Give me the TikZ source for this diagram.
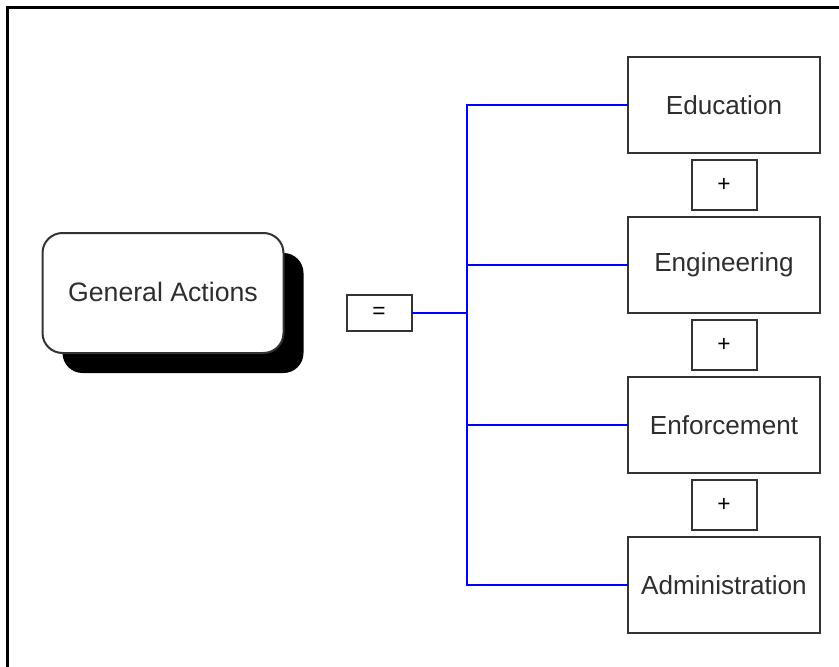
\documentclass[tikz,border=0pt]{standalone}
\usepackage{fontspec}
\setmainfont{Liberation Sans}
\usetikzlibrary{positioning,shadows}

\definecolor{boxline}{HTML}{333333}
\definecolor{boxtext}{HTML}{2E2E2E}
\definecolor{linkblue}{HTML}{0000FF}

\tikzset{
  part/.style={draw=boxline, line width=1.5pt, fill=white, text=boxtext,
    minimum width=144pt, minimum height=72pt, inner sep=0pt, outer sep=0pt,
    font=\fontsize{19.6}{23}\selectfont},
  sign/.style={draw=boxline, line width=1.5pt, fill=white, text=black,
    minimum width=48.75pt, minimum height=37.5pt, inner sep=0pt, outer sep=0pt,
    font=\fontsize{17}{19}\selectfont},
  whole/.style={draw=boxline, line width=1.5pt, fill=white, text=boxtext,
    rounded corners=15pt, minimum width=180.75pt, minimum height=90pt,
    inner sep=0pt, outer sep=0pt, font=\fontsize{20}{23}\selectfont,
    drop shadow={shadow xshift=15pt, shadow yshift=-15pt, fill=black, opacity=1}},
  link/.style={draw=linkblue, line width=1.5pt}
}

\begin{document}
\begin{tikzpicture}[x=0.75pt, y=-0.75pt]
  \useasboundingbox (0,0) rectangle (839,667);
  \draw[line width=2.25pt] (839,7.5) -- (7.5,7.5) -- (7.5,667);

  \node (gen) [whole] at (163,293) {\raisebox{2pt}{General Actions}};
  \node (eq) [sign, minimum height=27pt] at (379,313) {=};

  \node (edu) [part] at (724,104.7) {Education};
  \node (p1) [sign, below=5.25pt of edu] {+};
  \node (eng) [part, below=5.25pt of p1] {Engineering};
  \node (p2) [sign, below=5.25pt of eng] {+};
  \node (enf) [part, below=5.25pt of p2] {Enforcement};
  \node (p3) [sign, below=5.25pt of enf] {+};
  \node (adm) [part, below=5.25pt of p3] {Administration};

  \coordinate (hub) at (467,313);

  \path[link]
    (eq.east) edge (hub)
    (hub) edge[to path={|- (\tikztotarget)}] (edu.west)
    (hub) edge[to path={|- (\tikztotarget)}] (eng.west)
    (hub) edge[to path={|- (\tikztotarget)}] (enf.west)
    (hub) edge[to path={|- (\tikztotarget)}] (adm.west);
\end{tikzpicture}
\end{document}
